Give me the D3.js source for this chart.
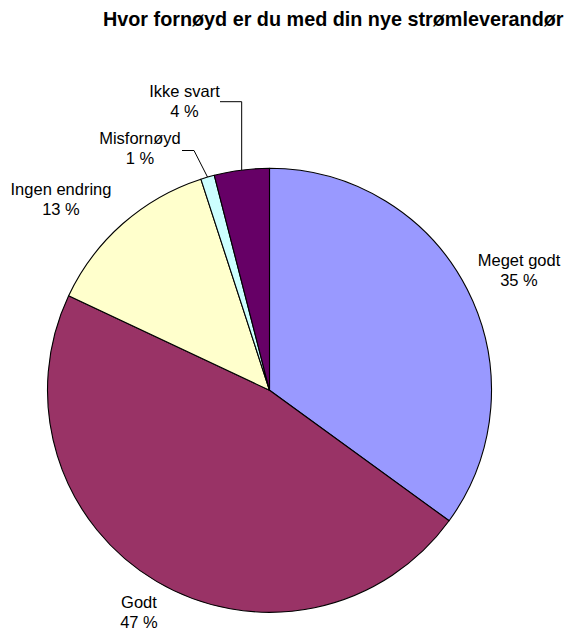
<!DOCTYPE html>
<html>
<head>
<meta charset="utf-8">
<script src="https://cdn.jsdelivr.net/npm/d3@7"></script>
<style>
  html, body { margin: 0; padding: 0; background: #fff; }
  svg { display: block; font-family: "Liberation Sans", Arial, sans-serif; }
</style>
</head>
<body>
<svg id="chart" width="565" height="632"></svg>
<script>
// Survey answers, share of respondents in percent
const categories = ["Meget godt", "Godt", "Ingen endring", "Misfornøyd", "Ikke svart"];
const values = [35, 47, 13, 1, 4];
const colors = ["#9999FF", "#993366", "#FFFFCC", "#CCFFFF", "#660066"];
const title = "Hvor fornøyd er du med din nye strømleverandør";

const width = 565, height = 632;
const cx = 269.5, cy = 390.3, radius = 222;

const svg = d3.select("#chart");

svg.append("text")
  .attr("x", 103)
  .attr("y", 26)
  .attr("font-size", 19.8)
  .attr("font-weight", "bold")
  .attr("fill", "#000")
  .text(title);

const data = categories.map((c, i) => ({ name: c, value: values[i], color: colors[i] }));

const pie = d3.pie().value(d => d.value).sort(null);
const arcs = pie(data);
const arc = d3.arc().innerRadius(0).outerRadius(radius);

const g = svg.append("g").attr("transform", `translate(${cx},${cy})`);

g.selectAll("path.slice")
  .data(arcs)
  .join("path")
  .attr("class", "slice")
  .attr("d", arc)
  .attr("fill", d => d.data.color)
  .attr("stroke", "#000")
  .attr("stroke-width", 1.1)
  .attr("stroke-linejoin", "round");

// Label placement (label centre x, first baseline y) relative to the page,
// plus optional leader elbow for the small slices.
const labelLayout = {
  "Meget godt":    { x: 519,   y: 266 },
  "Godt":          { x: 139,   y: 608 },
  "Ingen endring": { x: 61,    y: 195 },
  "Misfornøyd":    { x: 140,   y: 144, elbow: [182, 150.5, 194] },
  "Ikke svart":    { x: 184.5, y: 97,  elbow: [220, 101.7, null] }
};

const fmt = v => `${d3.format("d")(v)} %`;

const labels = svg.append("g");
arcs.forEach(a => {
  const L = labelLayout[a.data.name];
  const t = labels.append("text")
    .attr("text-anchor", "middle")
    .attr("font-size", 16.5)
    .attr("fill", "#000");
  t.append("tspan").attr("x", L.x).attr("y", L.y).text(a.data.name);
  t.append("tspan").attr("x", L.x).attr("y", L.y + 19.5).text(fmt(a.data.value));

  if (L.elbow) {
    // Leader line: from the label, across, then to the slice rim at its mid-angle
    const mid = (a.startAngle + a.endAngle) / 2;
    const ex = cx + radius * Math.sin(mid);
    const ey = cy - radius * Math.cos(mid);
    const [sx, sy, kx] = L.elbow;
    const bx = kx == null ? ex : kx;
    labels.append("path")
      .attr("d", d3.line()([[sx, sy], [bx, sy], [ex, ey]]))
      .attr("fill", "none")
      .attr("stroke", "#000")
      .attr("stroke-width", 1);
  }
});
</script>
</body>
</html>
